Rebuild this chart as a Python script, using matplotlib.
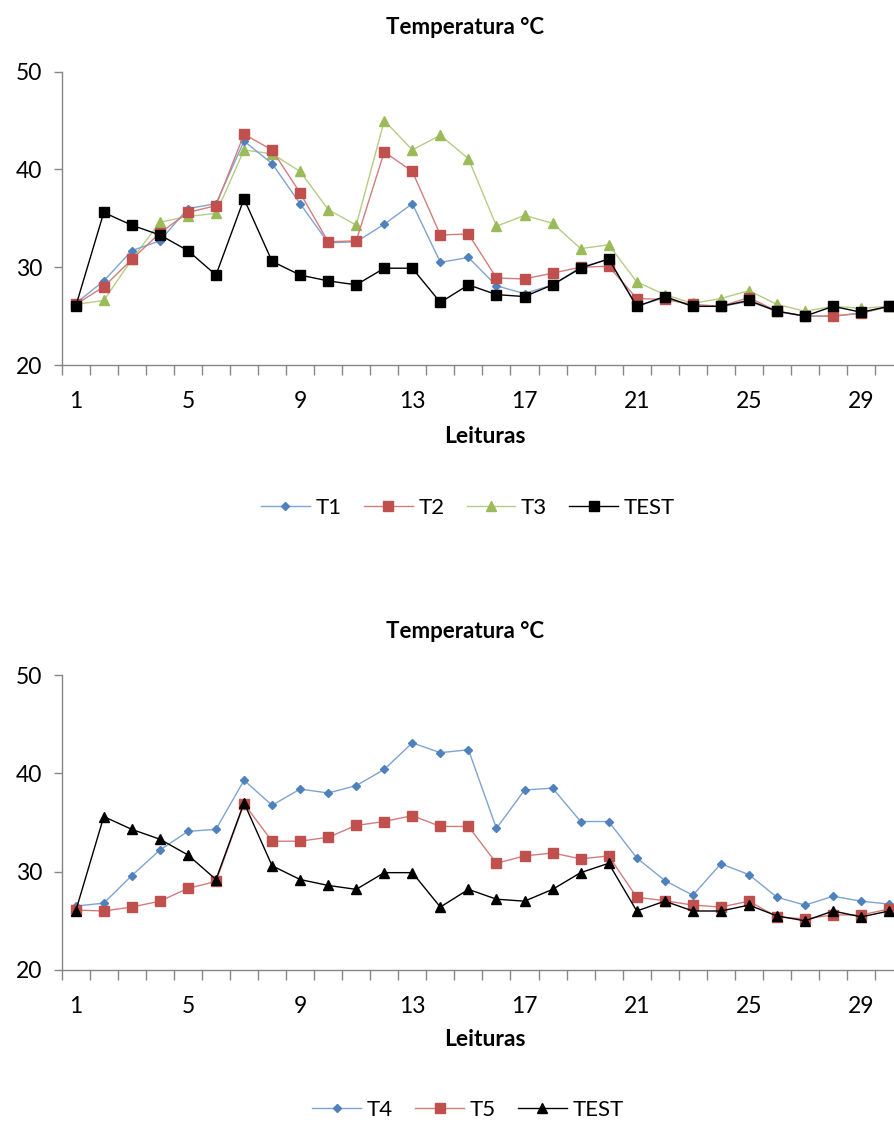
import matplotlib
matplotlib.use("Agg")
import matplotlib.pyplot as plt

plt.rcParams['font.family'] = ['Lato', 'DejaVu Sans']

leituras = list(range(1, 31))
tick_labels = ['1', '5', '9', '13', '17', '21', '25', '29']

t1 = [26.3, 28.6, 31.7, 32.7, 36.0, 36.5, 42.9, 40.6, 36.5, 32.5,
      32.6, 34.4, 36.5, 30.5, 31.0, 28.1, 27.3, 28.2, 30.0, 30.8,
      26.0, 26.9, 26.0, 26.0, 26.5, 25.5, 25.0, 25.0, 25.3, 26.0]
t2 = [26.2, 28.0, 30.8, 33.5, 35.6, 36.3, 43.6, 42.0, 37.6, 32.6,
      32.7, 41.8, 39.8, 33.3, 33.4, 28.9, 28.8, 29.4, 30.0, 30.1,
      26.8, 26.7, 26.2, 26.0, 26.9, 25.5, 25.0, 25.0, 25.3, 26.0]
t3 = [26.2, 26.6, 30.8, 34.6, 35.2, 35.5, 42.0, 41.6, 39.8, 35.9,
      34.3, 45.0, 42.0, 43.5, 41.1, 34.2, 35.3, 34.5, 31.9, 32.3,
      28.5, 27.2, 26.3, 26.8, 27.6, 26.2, 25.5, 26.0, 25.8, 26.0]
test = [26.0, 35.6, 34.3, 33.3, 31.7, 29.2, 37.0, 30.6, 29.2, 28.6,
        28.2, 29.9, 29.9, 26.4, 28.2, 27.2, 27.0, 28.2, 29.9, 30.85,
        26.0, 27.0, 26.0, 26.0, 26.6, 25.5, 25.0, 26.0, 25.4, 26.0]
t4 = [26.5, 26.8, 29.6, 32.2, 34.1, 34.3, 39.3, 36.75, 38.4, 38.0,
      38.75, 40.4, 43.1, 42.1, 42.4, 34.4, 38.3, 38.5, 35.1, 35.1,
      31.4, 29.1, 27.6, 30.8, 29.7, 27.4, 26.6, 27.5, 27.0, 26.7]
t5 = [26.1, 26.0, 26.4, 27.0, 28.3, 29.0, 36.9, 33.1, 33.1, 33.5,
      34.7, 35.1, 35.7, 34.6, 34.6, 30.85, 31.6, 31.9, 31.3, 31.6,
      27.4, 27.05, 26.6, 26.4, 27.0, 25.4, 25.2, 25.6, 25.6, 26.2]

W, H = 894, 1122
fig = plt.figure(figsize=(W / 100, H / 100), dpi=100)

AX_GRAY = '#868686'
BLUE, RED, GREEN = '#4F81BD', '#C0504D', '#9BBB59'
BLUE_L, RED_L, GREEN_L = '#7FA3D3', '#D27D7B', '#B5CD85'


def make_axes(top_px, bottom_px):
    left_px, right_px = 61.7, 903.2
    ax = fig.add_axes([left_px / W, 1 - bottom_px / H,
                       (right_px - left_px) / W, (bottom_px - top_px) / H])
    ax.set_xlim(0.5, 30.5)
    ax.set_ylim(20, 50)
    ax.set_yticks([20, 30, 40, 50])
    ax.set_xticks([1, 5, 9, 13, 17, 21, 25, 29])
    ax.set_xticklabels(tick_labels)
    ax.set_xticks([x + 0.5 for x in range(0, 31)], minor=True)
    ax.tick_params(axis='x', which='major', length=0, pad=19, labelsize=16.5)
    ax.tick_params(axis='x', which='minor', length=7, width=1, color=AX_GRAY, direction='out')
    ax.tick_params(axis='y', which='major', length=6, width=1, color=AX_GRAY,
                   direction='out', labelsize=16.5, pad=8)
    for s in ['top', 'right']:
        ax.spines[s].set_visible(False)
    for s in ['left', 'bottom']:
        ax.spines[s].set_color(AX_GRAY)
        ax.spines[s].set_linewidth(1)
    ax.set_facecolor('white')
    return ax


def series(ax, y, lc, mc, marker, ms, label, z=2):
    ax.plot(leituras, y, color=lc, lw=1.0, marker=marker, ms=ms,
            markerfacecolor=mc, markeredgecolor=mc, label=label, zorder=z,
            clip_on=False)


# Top chart
ax1 = make_axes(71.7, 365.0)
series(ax1, t1, BLUE_L, BLUE, 'D', 4.5, 'T1', 3)
series(ax1, t2, RED_L, RED, 's', 6.5, 'T2', 3)
series(ax1, t3, GREEN_L, GREEN, '^', 7, 'T3', 2)
series(ax1, test, '#000000', '#000000', 's', 7.5, 'TEST', 4)

fig.text(465 / W, 1 - 28 / H, 'Temperatura °C', ha='center', va='center',
         fontsize=16, fontweight='bold')
fig.text(485 / W, 1 - 437 / H, 'Leituras', ha='center', va='center',
         fontsize=16.5, fontweight='bold')
h1, l1 = ax1.get_legend_handles_labels()
fig.legend(h1, l1, loc='center', bbox_to_anchor=(468 / W, 1 - 508 / H), ncol=4,
           frameon=False, fontsize=16, handlelength=2.2, handletextpad=0.25,
           columnspacing=1.0)

# Bottom chart
ax2 = make_axes(675.0, 970.0)
series(ax2, t4, BLUE_L, BLUE, 'D', 4.5, 'T4', 3)
series(ax2, t5, RED_L, RED, 's', 6.5, 'T5', 3)
series(ax2, test, '#000000', '#000000', '^', 6.5, 'TEST', 4)

fig.text(465 / W, 1 - 631 / H, 'Temperatura °C', ha='center', va='center',
         fontsize=16, fontweight='bold')
fig.text(485 / W, 1 - 1040 / H, 'Leituras', ha='center', va='center',
         fontsize=16.5, fontweight='bold')
h2, l2 = ax2.get_legend_handles_labels()
fig.legend(h2, l2, loc='center', bbox_to_anchor=(468 / W, 1 - 1110 / H), ncol=3,
           frameon=False, fontsize=16, handlelength=2.2, handletextpad=0.25,
           columnspacing=1.0)

fig.savefig('out.png', dpi=100, facecolor='white')
